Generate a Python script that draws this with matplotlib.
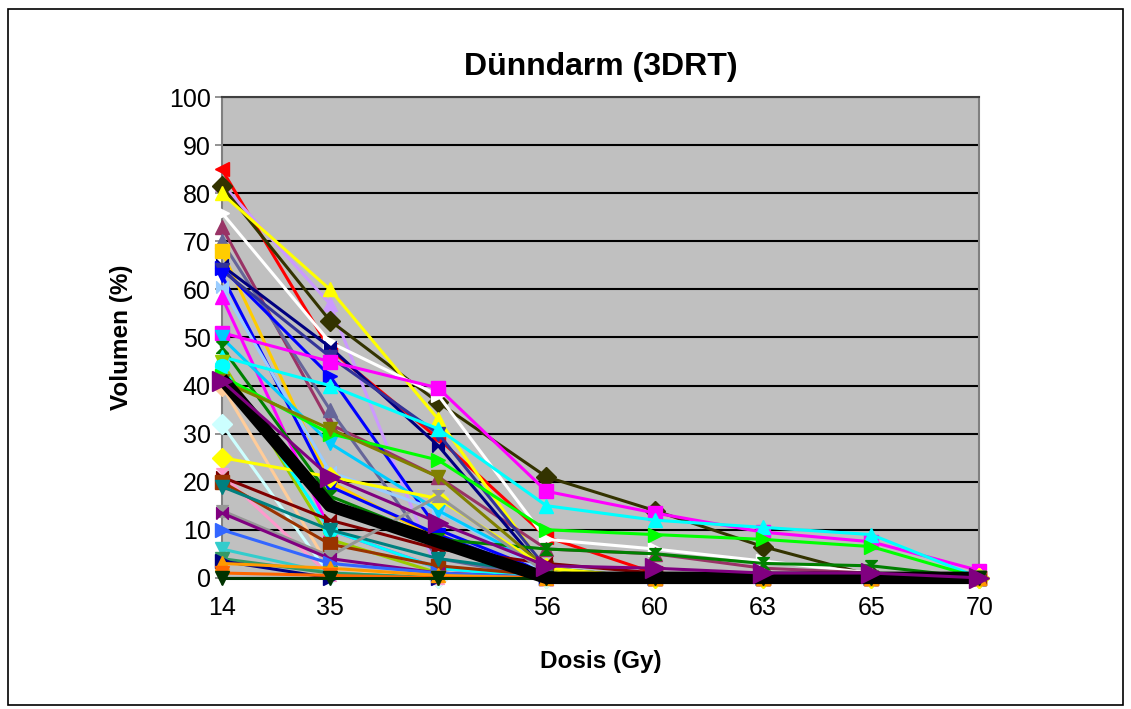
import matplotlib.pyplot as plt
from matplotlib.patches import Rectangle

# dose levels (categorical x axis)
doses = ["14", "35", "50", "56", "60", "63", "65", "70"]

# volume (%) of small bowel receiving each dose, one row per patient
volumes = [
    [85, 47.5, 29, 8.5, 1, 0, 0, 0],
    [82, 57, 1, 0, 0, 0, 0, 0],
    [81.5, 53.5, 36.5, 21, 14, 6.5, 0.5, 0],
    [80, 60, 33, 1.5, 0, 0, 0, 0],
    [76, 49, 38, 8, 6, 3.5, 1, 0],
    [73, 32, 21, 6, 5, 2, 1, 0],
    [70, 35, 4, 0, 0, 0, 0, 0],
    [68, 20, 8, 1, 0, 0, 0, 0],
    [65, 48, 27.5, 1, 0, 0, 0, 0],
    [64.5, 42, 10, 1, 0, 0, 0, 0],
    [64, 46, 30, 2, 0, 0, 0, 0],
    [63, 19, 9, 0.5, 0, 0, 0, 0],
    [60.5, 22, 14, 1, 0, 0, 0, 0],
    [58.5, 10, 2, 0, 0, 0, 0, 0],
    [51, 45, 39.5, 18, 13.5, 9.5, 7.5, 1.5],
    [50, 28, 14, 2, 0, 0, 0, 0],
    [48, 17, 8, 6, 5, 3, 2.5, 0],
    [46, 40, 31, 15, 12, 10.5, 9, 0],
    [45, 8, 1, 0, 0, 0, 0, 0],
    [44, 10, 2, 0, 0, 0, 0, 0],
    [42, 30, 24.5, 10, 9, 8, 6.5, 0],
    [41, 31, 21, 2, 0, 0, 0, 0],
    [40, 2, 0, 0, 0, 0, 0, 0],
    [32, 0.5, 0, 0, 0, 0, 0, 0],
    [25, 21, 16.5, 2, 0, 0, 0, 0],
    [21.5, 0.5, 0, 0, 0, 0, 0, 0],
    [21, 12, 6, 3, 1, 0, 0, 0],
    [20, 7, 2.5, 0.5, 0, 0, 0, 0],
    [19, 10, 4, 1, 0, 0, 0, 0],
    [14, 4.5, 17, 1, 0, 0, 0, 0],
    [13.5, 4, 1, 0, 0, 0, 0, 0],
    [10, 3, 1, 0, 0, 0, 0, 0],
    [6, 1, 0, 0, 0, 0, 0, 0],
    [4, 1, 0, 0, 0, 0, 0, 0],
    [3.5, 0, 0, 0, 0, 0, 0, 0],
    [3, 2, 0.5, 0, 0, 0, 0, 0],
    [1, 0.5, 0, 0, 0, 0, 0, 0],
    [0, 0, 0, 0, 0, 0, 0, 0],
]

# thick summary curve and the large purple series drawn on top
summary = [41.5, 15, 7.5, 0, 0, 0, 0, 0]
purple = [41, 21, 11.5, 2.5, 2, 1, 1, 0]

colors = [
    "#FF0000", "#CC99FF", "#333300", "#FFFF00", "#FFFFFF", "#993366",
    "#666699", "#FFCC00", "#000080", "#0000FF", "#333399", "#0000FF",
    "#99CCFF", "#FF00FF", "#FF00FF", "#00CCFF", "#008000", "#00FFFF",
    "#99CC00", "#00FFFF", "#00FF00", "#808000", "#FFCC99", "#CCFFFF",
    "#FFFF00", "#FF99CC", "#800000", "#993300", "#008080", "#969696",
    "#800080", "#3366FF", "#33CCCC", "#339966", "#000080", "#FF9900",
    "#FF6600", "#003300",
]

# hourglass and bowtie symbols like the office chart markers
hourglass = [(-1, 1), (1, 1), (-1, -1), (1, -1), (-1, 1)]
bowtie = [(-1, -1), (-1, 1), (1, -1), (1, 1), (-1, -1)]

markers = [
    "<", "^", "D", "^", ">", "^",
    "^", "s", bowtie, ">", "v", "v",
    bowtie, "^", "s", "v", hourglass, "^",
    "v", "o", ">", "v", "D", "D",
    "D", hourglass, bowtie, "s", "v", hourglass,
    bowtie, ">", "v", "v", ">", "^",
    "v", "v",
]

fig = plt.figure(figsize=(11.31, 7.09), dpi=100)
plt.rcParams['font.family'] = ['Liberation Sans', 'DejaVu Sans']

ax = fig.add_axes([0.196, 0.185, 0.670, 0.678])
ax.set_facecolor("#C0C0C0")
x = list(range(len(doses)))

for vals, c, m in zip(volumes, colors, markers):
    ms = 8.5 if isinstance(m, list) else 10
    ax.plot(x, vals, color=c, marker=m, markersize=ms, linewidth=2.2,
            markeredgecolor=c, clip_on=False, zorder=3)

ax.plot(x, summary, color="black", linewidth=9, solid_capstyle="butt",
        clip_on=False, zorder=4)
ax.plot(x, purple, color="#800080", marker=">", markersize=15, linewidth=2.2,
        clip_on=False, zorder=5)

ax.set_xlim(0, len(doses) - 1)
ax.set_ylim(0, 100)
ax.set_yticks(range(0, 101, 10))
ax.set_xticks(x)
ax.set_xticklabels(doses)
ax.yaxis.grid(True, color="black", linewidth=1.5)
ax.set_axisbelow(True)
ax.tick_params(axis="both", labelsize=18, color="#808080", length=5,
               width=1.2, pad=3)
ax.tick_params(axis="x", pad=8)

for side in ["left", "right", "bottom"]:
    ax.spines[side].set_color("#808080")
    ax.spines[side].set_linewidth(1.5)
ax.spines["top"].set_color("#404040")
ax.spines["top"].set_linewidth(1.5)

ax.set_title("Dünndarm (3DRT)", fontsize=23, fontweight="bold", pad=16)
ax.set_ylabel("Volumen (%)", fontsize=17.5, fontweight="bold", labelpad=26)
ax.set_xlabel("Dosis (Gy)", fontsize=17.5, fontweight="bold", labelpad=22)

# chart frame
fig.patches.append(Rectangle((0.007, 0.006), 0.986, 0.982,
                             transform=fig.transFigure, fill=False,
                             edgecolor="black", linewidth=1.2))

fig.savefig("out.png", dpi=100)
